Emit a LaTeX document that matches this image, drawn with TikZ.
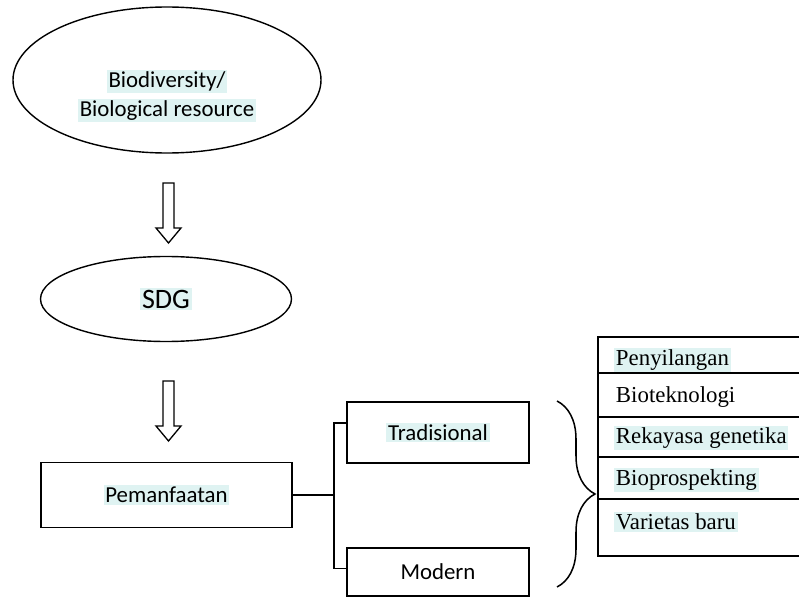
\documentclass[tikz,border=0pt]{standalone}
\usepackage{fontspec}
\setmainfont{Liberation Serif}
\newfontfamily\calfont{Carlito}
\usepackage{xcolor}
\usetikzlibrary{shapes.geometric}
\usetikzlibrary{decorations.pathreplacing}
\definecolor{hlcyan}{HTML}{DFF3F2}
\newcommand{\hl}[1]{{\setlength{\fboxsep}{1.5pt}\colorbox{hlcyan}{#1}}}

\begin{document}
\begin{tikzpicture}[x=0.3mm,y=-0.3mm]
\tikzstyle{blob} =[ellipse, draw, line width=1.2pt, inner sep=0pt]
\tikzstyle{box} =[rectangle, draw, line width=1.4pt, inner sep=0pt, font=\calfont\fontsize{19.5}{23}\selectfont]
\tikzstyle{sans} =[font=\calfont\fontsize{19.5}{24.5}\selectfont, align=center, inner sep=0pt]
\tikzstyle{serif} =[font=\fontsize{19.5}{23}\selectfont, anchor=west, inner sep=0pt]
\tikzstyle{link} =[line width=1.3pt]
\useasboundingbox (0,0) rectangle (799,598);

% left column
\node[blob,minimum width=92.4mm,minimum height=43.8mm](bio) at (167,80){};
\node[sans](biotxt) at (167,96){\hl{Biodiversity/}\\\hl{Biological resource}};
\node[blob,minimum width=75.3mm,minimum height=25.5mm,font=\calfont\fontsize{24}{28}\selectfont](sdg) at (166,299){\hl{SDG}};
\node[box,minimum width=75.3mm,minimum height=19.5mm](pem) at (166.5,495){\hl{Pemanfaatan}};

% hollow arrows
\foreach \t in {183,381}
  \draw[line width=1.1pt] (163,\t) -- (174,\t) -- (174,\t+45) -- (181,\t+45)
    -- (168.5,\t+60) -- (156,\t+45) -- (163,\t+45) -- cycle;

% middle column
\node[box,minimum width=54.6mm,minimum height=18.3mm](trad) at (438,432.5){\hl{Tradisional}};
\node[box,minimum width=54.6mm,minimum height=14.4mm](mod) at (438,572){Modern};
\draw[link] (pem.east) -- ++(41,0) coordinate (fork);
\draw[link] ([yshift=8pt]trad.west) -| (fork) |- ([yshift=3pt]mod.west);

% brace
\coordinate (braceTop) at (557,401);
\coordinate (braceBot) at (557,587);
\draw[link,decorate,decoration={brace,amplitude=11.4mm}] (braceTop) -- (braceBot);

% table on the right
\draw[link] (799,337) -| (598,556) -- (799,556);
\foreach \y in {373,417,457,499}
  \draw[link] (598,\y) -- (799,\y);
\node[serif](row1) at (614,360){\hl{Penyilangan}};
\node[serif](row2) at (614,397){\hspace{1.5pt}Bioteknologi};
\node[serif](row3) at (614,438){\hl{Rekayasa genetika}};
\node[serif](row4) at (614,480){\hl{Bioprospekting}};
\node[serif](row5) at (614,522){\hl{Varietas baru}};
\end{tikzpicture}
\end{document}
